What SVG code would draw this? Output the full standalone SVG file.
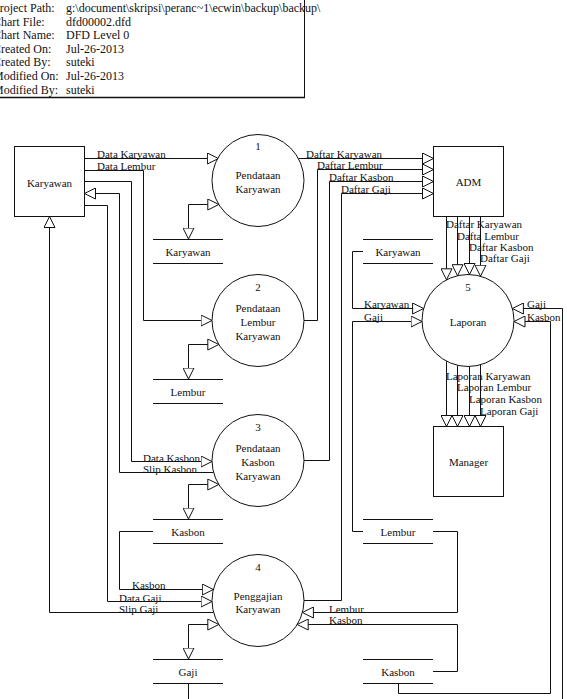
<svg xmlns="http://www.w3.org/2000/svg" width="567" height="699" viewBox="0 0 567 699" font-family="'Liberation Serif', 'Times New Roman', serif" font-size="11">
  <style>
    text { font-family: "Liberation Serif", "Times New Roman", serif; font-size: 11px; fill: #111; }
    .hdr { font-size: 12px; }
    .lbl { font-family: "Liberation Serif", "Times New Roman", serif; text-anchor: middle; }
    .box { fill: #fff; stroke: #111; stroke-width: 1; }
    .store { stroke: #111; stroke-width: 1; fill: none; }
    .flow { fill: none; stroke: #111; stroke-width: 1; }
    .arr { marker-end: url(#arrow); }
    .both { marker-start: url(#arrow); marker-end: url(#arrow); }
  </style>
  <defs>
    <marker id="arrow" viewBox="0 0 12 12" refX="11.5" refY="6" markerWidth="12" markerHeight="12" markerUnits="userSpaceOnUse" orient="auto-start-reverse">
      <path d="M0.5,0.5 L11.5,6 L0.5,11.5 Z" fill="#fff" stroke="#111" stroke-width="1"/>
    </marker>
  </defs>
  <rect width="567" height="699" fill="#fff"/>

  <!-- chart header block -->
  <g id="header">
    <rect x="-10" y="-10" width="314.5" height="107.5" fill="none" stroke="#111" stroke-width="1"/>
    <line x1="-10" y1="97.5" x2="305" y2="97.5" stroke="#111" stroke-width="1.5"/>
    <text class="hdr" x="-7" y="12">Project Path:</text>
    <text class="hdr" x="66" y="12">g:\document\skripsi\peranc~1\ecwin\backup\backup\</text>
    <text class="hdr" x="-7" y="25.6">Chart File:</text>
    <text class="hdr" x="66" y="25.6">dfd00002.dfd</text>
    <text class="hdr" x="-7" y="39.2">Chart Name:</text>
    <text class="hdr" x="66" y="39.2">DFD Level 0</text>
    <text class="hdr" x="-7" y="52.8">Created On:</text>
    <text class="hdr" x="66" y="52.8">Jul-26-2013</text>
    <text class="hdr" x="-7" y="66.4">Created By:</text>
    <text class="hdr" x="66" y="66.4">suteki</text>
    <text class="hdr" x="-7" y="80">Modified On:</text>
    <text class="hdr" x="66" y="80">Jul-26-2013</text>
    <text class="hdr" x="-7" y="93.6">Modified By:</text>
    <text class="hdr" x="66" y="93.6">suteki</text>
  </g>

  <!-- data flows -->
  <g id="connectors">
    <path class="flow arr" d="M84.5,158.5 H218.4"/>
    <path class="flow arr" d="M84.5,170.5 H143.5 V320.5 H212"/>
    <path class="flow arr" d="M84.5,181.5 H131.5 V461.5 H212"/>
    <path class="flow arr" d="M213.6,472.5 H119.5 V193.5 H84.5"/>
    <path class="flow arr" d="M84.5,205.5 H107.5 V601.5 H212"/>
    <path class="flow arr" d="M213.6,612.5 H49.5 V216.5"/>
    <path class="flow arr" d="M153,531.5 H119.5 V589.5 H213.3"/>

    <path class="flow both" d="M188.5,239 V204.5 H218.8"/>
    <path class="flow both" d="M188.5,379 V344.5 H218.8"/>
    <path class="flow both" d="M188.5,519 V484.5 H218.8"/>
    <path class="flow both" d="M188.5,659 V624.5 H218.8"/>

    <path class="flow arr" d="M298.4,158.5 H433.5"/>
    <path class="flow arr" d="M304,320.5 H317.5 V169.5 H433.5"/>
    <path class="flow arr" d="M304,460.5 H329.5 V181.5 H433.5"/>
    <path class="flow arr" d="M304,600.5 H341.5 V193.5 H433.5"/>

    <path class="flow arr" d="M446.5,216.5 V279.8"/>
    <path class="flow arr" d="M457.5,216.5 V275.7"/>
    <path class="flow arr" d="M469.5,216.5 V274.5"/>
    <path class="flow arr" d="M480.5,216.5 V276.2"/>

    <path class="flow arr" d="M446.5,361.2 V426.5"/>
    <path class="flow arr" d="M457.5,365.3 V426.5"/>
    <path class="flow arr" d="M469.5,366.5 V426.5"/>
    <path class="flow arr" d="M480.5,364.8 V426.5"/>

    <path class="flow arr" d="M363,251.5 H352.5 V308.5 H423.6"/>
    <path class="flow arr" d="M363,531.5 H352.5 V321.5 H422"/>
    <path class="flow arr" d="M562.5,710 V308.5 H512.4"/>
    <path class="flow arr" d="M398.5,683 V693.5 H550.5 V321.5 H514"/>

    <path class="flow arr" d="M433,531.5 H457.5 V612.5 H302.4"/>
    <path class="flow arr" d="M433,671.5 H457.5 V624.5 H297.2"/>
    <path class="flow" d="M188.5,683 V710"/>

    <text x="97" y="158">Data Karyawan</text>
    <text x="97" y="170">Data Lembur</text>
    <text x="306" y="158">Daftar Karyawan</text>
    <text x="317" y="169">Daftar Lembur</text>
    <text x="329" y="181">Daftar Kasbon</text>
    <text x="341" y="193">Daftar Gaji</text>
    <text x="446" y="228">Daftar Karyawan</text>
    <text x="457" y="240">Dafta Lembur</text>
    <text x="469" y="251">Daftar Kasbon</text>
    <text x="480" y="262">Daftar Gaji</text>
    <text x="364" y="308">Karyawan</text>
    <text x="364" y="321">Gaji</text>
    <text x="527" y="308">Gaji</text>
    <text x="527" y="321">Kasbon</text>
    <text x="446" y="380">Laporan Karyawan</text>
    <text x="457" y="391">Laporan Lembur</text>
    <text x="469" y="403">Laporan Kasbon</text>
    <text x="480" y="415">Laporan Gaji</text>
    <text x="143" y="462">Data Kasbon</text>
    <text x="143" y="473">Slip Kasbon</text>
    <text x="132" y="589">Kasbon</text>
    <text x="119" y="602">Data Gaji</text>
    <text x="119" y="613">Slip Gaji</text>
    <text x="329" y="613">Lembur</text>
    <text x="329" y="624">Kasbon</text>
  </g>

  <!-- external entities -->
  <g id="entity-karyawan">
    <rect class="box" x="14.5" y="146.5" width="70" height="70"/>
    <text class="lbl" x="49.5" y="186.5">Karyawan</text>
  </g>
  <g id="entity-adm">
    <rect class="box" x="433.5" y="146.5" width="70" height="70"/>
    <text class="lbl" x="468.5" y="186">ADM</text>
  </g>
  <g id="entity-manager">
    <rect class="box" x="433.5" y="426.5" width="70" height="70"/>
    <text class="lbl" x="468.5" y="466">Manager</text>
  </g>

  <!-- processes -->
  <g id="process-1">
    <circle class="box" cx="258" cy="180.5" r="46"/>
    <text class="lbl" x="258" y="150">1</text>
    <text class="lbl" x="258" y="179">Pendataan</text>
    <text class="lbl" x="258" y="193">Karyawan</text>
  </g>
  <g id="process-2">
    <circle class="box" cx="258" cy="320.5" r="46"/>
    <text class="lbl" x="258" y="291">2</text>
    <text class="lbl" x="258" y="312">Pendataan</text>
    <text class="lbl" x="258" y="326">Lembur</text>
    <text class="lbl" x="258" y="340">Karyawan</text>
  </g>
  <g id="process-3">
    <circle class="box" cx="258" cy="460.5" r="46"/>
    <text class="lbl" x="258" y="430.5">3</text>
    <text class="lbl" x="258" y="452">Pendataan</text>
    <text class="lbl" x="258" y="466">Kasbon</text>
    <text class="lbl" x="258" y="480">Karyawan</text>
  </g>
  <g id="process-4">
    <circle class="box" cx="258" cy="600.5" r="46"/>
    <text class="lbl" x="258" y="571">4</text>
    <text class="lbl" x="258" y="599.5">Penggajian</text>
    <text class="lbl" x="258" y="613">Karyawan</text>
  </g>
  <g id="process-5">
    <circle class="box" cx="468" cy="320.5" r="46"/>
    <text class="lbl" x="468" y="290.5">5</text>
    <text class="lbl" x="468" y="326">Laporan</text>
  </g>

  <!-- data stores -->
  <g id="store-karyawan">
    <path class="store" d="M153,239.5 H223 M153,263.5 H223"/>
    <text class="lbl" x="188" y="255.5">Karyawan</text>
  </g>
  <g id="store-lembur">
    <path class="store" d="M153,379.5 H223 M153,403.5 H223"/>
    <text class="lbl" x="188" y="395.5">Lembur</text>
  </g>
  <g id="store-kasbon">
    <path class="store" d="M153,519.5 H223 M153,543.5 H223"/>
    <text class="lbl" x="188" y="536">Kasbon</text>
  </g>
  <g id="store-gaji">
    <path class="store" d="M153,659.5 H223 M153,683.5 H223"/>
    <text class="lbl" x="188" y="676">Gaji</text>
  </g>
  <g id="store-karyawan-2">
    <path class="store" d="M363,239.5 H433 M363,263.5 H433"/>
    <text class="lbl" x="398" y="255.5">Karyawan</text>
  </g>
  <g id="store-lembur-2">
    <path class="store" d="M363,519.5 H433 M363,543.5 H433"/>
    <text class="lbl" x="398" y="535.5">Lembur</text>
  </g>
  <g id="store-kasbon-2">
    <path class="store" d="M363,659.5 H433 M363,683.5 H433"/>
    <text class="lbl" x="398" y="675.5">Kasbon</text>
  </g>
</svg>
